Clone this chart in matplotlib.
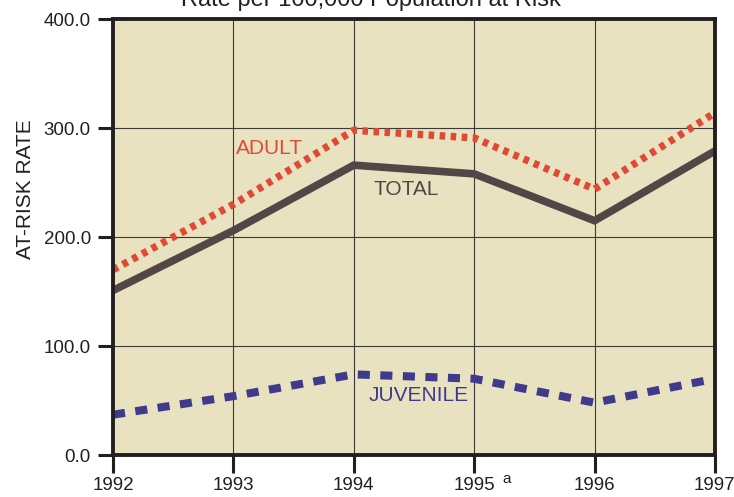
import matplotlib.pyplot as plt
import matplotlib as mpl

mpl.rcParams["font.family"] = ["Liberation Sans", "DejaVu Sans"]

years = [1992, 1993, 1994, 1995, 1996, 1997]
year_labels = ["1992", "1993", "1994", "1995", "1996", "1997"]
total = [151, 206, 266, 258, 215, 279]
adult = [170, 230, 298, 291, 244, 314]
juvenile = [37, 54, 74, 70, 48, 70]

C_BG = "#E8E2C1"
C_TOTAL = "#544647"
C_ADULT = "#E04A33"
C_JUV = "#3F3A8C"
C_AX = "#231F20"

fig = plt.figure(figsize=(7.34, 4.97), dpi=100)
ax = fig.add_axes([0.154, 0.0845, 0.820, 0.877])
ax.set_facecolor(C_BG)

ax.plot(years, adult, color=C_ADULT, lw=5.3, linestyle=(0, (0.75, 0.75)),
        dash_capstyle="butt", zorder=3)
ax.plot(years, total, color=C_TOTAL, lw=5.5, solid_joinstyle="miter", zorder=4)
ax.plot(years, juvenile, color=C_JUV, lw=5.8, linestyle=(0, (1.5, 1.3)),
        dash_capstyle="butt", zorder=3)

ax.set_xlim(1992, 1997)
ax.set_ylim(0, 400)
ax.set_xticks(years)
ax.set_xticklabels(year_labels)
ax.set_yticks([0, 100, 200, 300, 400])
ax.set_yticklabels(["0.0", "100.0", "200.0", "300.0", "400.0"])
ax.grid(True, color="#3a3a3a", lw=0.8, zorder=1)
ax.set_axisbelow(True)

for side in ["left", "bottom", "top", "right"]:
    ax.spines[side].set_color(C_AX)
    ax.spines[side].set_linewidth(2.8)
    ax.spines[side].set_zorder(5)
ax.tick_params(axis="y", length=11, width=2.2, color=C_AX, labelsize=13.5,
               pad=5, labelcolor=C_AX)
ax.tick_params(axis="x", length=13, width=2.2, color=C_AX, labelsize=13.5,
               pad=3, labelcolor=C_AX)

ax.set_ylabel("AT-RISK RATE", fontsize=15, color=C_AX)
ax.yaxis.set_label_coords(-0.13, 0.61)

ax.text(1993.02, 281, "ADULT", color=C_ADULT, fontsize=15, ha="left", va="center")
ax.text(1994.16, 244, "TOTAL", color=C_TOTAL, fontsize=15, ha="left", va="center")
ax.text(1994.12, 55, "JUVENILE", color=C_JUV, fontsize=15, ha="left", va="center")

fig.text(0.6905, 0.036, "a", fontsize=11, color=C_AX, ha="center", va="center")
fig.text(0.505, 1.0, "Rate per 100,000 Population at Risk", fontsize=17,
         color=C_AX, ha="center", va="center")

fig.savefig("out.png", dpi=100, facecolor="white")
